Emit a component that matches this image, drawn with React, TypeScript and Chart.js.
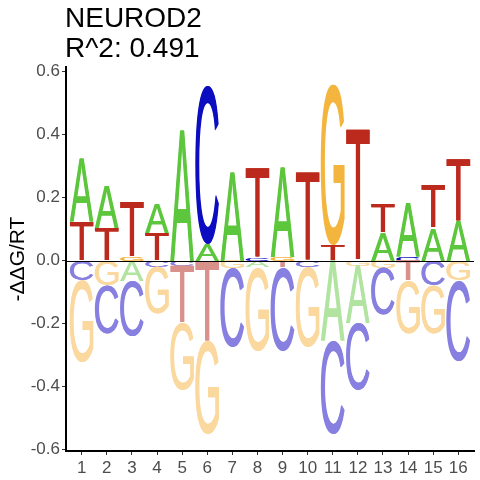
import { useEffect, useRef } from "react"
import { Chart, registerables } from "chart.js"

Chart.register(...registerables)

const positions = [1, 2, 3, 4, 5, 6, 7, 8, 9, 10, 11, 12, 13, 14, 15, 16]
const bases = ["A", "C", "G", "T"]
const titleLines = ["NEUROD2", "R^2: 0.491"]
const yTicks = [-0.6, -0.4, -0.2, 0, 0.2, 0.4, 0.6]

// heights above zero
const gainA = [0.197, 0.132, 0, 0.091, 0.416, 0.053, 0.28, 0, 0.284, 0, 0, 0, 0.088, 0.171, 0.103, 0.124]
const gainC = [0, 0, 0, 0, 0, 0.503, 0, 0.01, 0, 0, 0, 0, 0, 0.012, 0, 0]
const gainG = [0, 0, 0.012, 0, 0, 0, 0, 0, 0.012, 0, 0.508, 0, 0, 0, 0, 0]
const gainT = [0.124, 0.103, 0.171, 0.087, 0, 0, 0, 0.286, 0, 0.28, 0.048, 0.416, 0.09, 0, 0.135, 0.197]

// heights below zero
const lossA = [0, 0, 0.064, 0, 0, 0, 0, 0.021, 0, 0, 0.254, 0.183, 0, 0, 0, 0]
const lossC = [0.064, 0.153, 0.174, 0.02, 0.016, 0, 0.249, 0, 0.265, 0.021, 0.297, 0.212, 0.149, 0, 0.08, 0.254]
const lossG = [0.259, 0.08, 0, 0.149, 0.212, 0.297, 0.025, 0.265, 0, 0.255, 0, 0.016, 0.024, 0.169, 0.153, 0.064]
const lossT = [0, 0, 0, 0, 0.183, 0.254, 0, 0, 0.021, 0, 0, 0, 0, 0.064, 0, 0]

const gain: Record<string, number[]> = { A: gainA, C: gainC, G: gainG, T: gainT }
const loss: Record<string, number[]> = { A: lossA, C: lossC, G: lossG, T: lossT }

const strong: Record<string, string> = { A: "#5cc63c", C: "#0c0cc0", G: "#f4b53f", T: "#bb2a1d" }
const faded: Record<string, string> = { A: "#b0e4a0", C: "#8880e0", G: "#fad89e", T: "#d9928b" }

const FONT = "'Liberation Sans', Arial, sans-serif"
const GLYPH_FONT = "100px " + FONT
const COL_WIDTH = 0.95

const drawLetter = (
  ctx: CanvasRenderingContext2D,
  letter: string,
  color: string,
  x0: number,
  x1: number,
  yTop: number,
  yBottom: number
) => {
  const h = yBottom - yTop
  if (h <= 0.2) return
  ctx.save()
  ctx.font = GLYPH_FONT
  ctx.textAlign = "left"
  ctx.textBaseline = "alphabetic"
  const m = ctx.measureText(letter)
  const gw = m.actualBoundingBoxLeft + m.actualBoundingBoxRight
  const gh = m.actualBoundingBoxAscent + m.actualBoundingBoxDescent
  ctx.fillStyle = color
  // two passes half a pixel apart, so the thin strokes read a little heavier
  ;[0, 0.6].forEach((dx) => {
    ctx.save()
    ctx.translate(x0 + dx, yTop)
    ctx.scale((x1 - x0 - 0.6) / gw, h / gh)
    ctx.fillText(letter, m.actualBoundingBoxLeft, m.actualBoundingBoxAscent)
    ctx.restore()
  })
  ctx.restore()
}

const logoPlugin = {
  id: "logo",
  afterDatasetsDraw(chart: Chart) {
    const { ctx, chartArea } = chart
    const xs = chart.scales.x
    const ys = chart.scales.y
    ctx.save()
    ctx.beginPath()
    ctx.rect(chartArea.left, chartArea.top, chartArea.right - chartArea.left, chartArea.bottom - chartArea.top)
    ctx.clip()
    positions.forEach((p, i) => {
      const x0 = xs.getPixelForValue(p - COL_WIDTH / 2)
      const x1 = xs.getPixelForValue(p + COL_WIDTH / 2)

      const up = bases
        .map((b) => ({ b, v: gain[b][i] }))
        .filter((d) => d.v > 0)
        .sort((a, b) => a.v - b.v)
      let acc = 0
      up.forEach(({ b, v }) => {
        drawLetter(ctx, b, strong[b], x0, x1, ys.getPixelForValue(acc + v), ys.getPixelForValue(acc))
        acc += v
      })

      const down = bases
        .map((b) => ({ b, v: loss[b][i] }))
        .filter((d) => d.v > 0)
        .sort((a, b) => a.v - b.v)
      acc = 0
      down.forEach(({ b, v }) => {
        drawLetter(ctx, b, faded[b], x0, x1, ys.getPixelForValue(-acc), ys.getPixelForValue(-(acc + v)))
        acc += v
      })
    })

    // zero line
    const y0 = Math.round(ys.getPixelForValue(0)) + 0.5
    ctx.strokeStyle = "#000"
    ctx.lineWidth = 1
    ctx.beginPath()
    ctx.moveTo(chartArea.left, y0)
    ctx.lineTo(chartArea.right, y0)
    ctx.stroke()
    ctx.restore()
  },
  afterDraw(chart: Chart) {
    const { ctx, chartArea } = chart
    ctx.save()
    ctx.font = "28px " + FONT
    ctx.fillStyle = "#000"
    ctx.textAlign = "left"
    ctx.textBaseline = "alphabetic"
    ctx.fillText(titleLines[0], chartArea.left - 1, chartArea.top - 40)
    ctx.fillText(titleLines[1], chartArea.left - 1, chartArea.top - 10)
    ctx.restore()
  },
}

const App = () => {
  const chartRef = useRef<HTMLCanvasElement>(null)
  const chartInstance = useRef<Chart | null>(null)

  useEffect(() => {
    if (!chartRef.current) return
    if (chartInstance.current) chartInstance.current.destroy()

    const axisGrid = {
      display: true,
      drawOnChartArea: false,
      drawTicks: true,
      tickLength: 4,
      tickColor: "#333333",
      tickWidth: 1,
    }
    const axisBorder = { display: true, color: "#000000", width: 2 }
    const tickStyle = { color: "#4d4d4d", font: { size: 17, family: FONT } }

    chartInstance.current = new Chart(chartRef.current, {
      type: "scatter",
      data: {
        datasets: bases.map((b) => ({
          label: b,
          data: positions.map((p, i) => ({ x: p, y: gain[b][i] })),
          pointRadius: 0,
          showLine: false,
        })),
      },
      options: {
        animation: false,
        responsive: true,
        maintainAspectRatio: false,
        devicePixelRatio: 1,
        layout: { padding: { top: 67, right: 6, bottom: 0, left: 0 } },
        plugins: {
          legend: { display: false },
          tooltip: { enabled: false },
        },
        scales: {
          x: {
            type: "linear",
            min: 0.375,
            max: 16.625,
            afterFit: (s: any) => {
              s.height = 29
            },
            afterBuildTicks: (s: any) => {
              s.ticks = positions.map((v) => ({ value: v }))
            },
            ticks: { ...tickStyle, padding: 3, autoSkip: false, maxRotation: 0 },
            grid: axisGrid,
            border: axisBorder,
          },
          y: {
            type: "linear",
            min: -0.604,
            max: 0.614,
            afterFit: (s: any) => {
              s.width = 66
            },
            afterBuildTicks: (s: any) => {
              s.ticks = yTicks.map((v) => ({ value: v }))
            },
            ticks: { ...tickStyle, padding: 2, callback: (v: any) => Number(v).toFixed(1) },
            grid: axisGrid,
            border: axisBorder,
            title: {
              display: true,
              text: "-ΔΔG/RT",
              color: "#000000",
              font: { size: 21, family: FONT },
              padding: { top: 6, bottom: 0 },
            },
          },
        },
      },
      plugins: [logoPlugin],
    })

    return () => {
      if (chartInstance.current) {
        chartInstance.current.destroy()
        chartInstance.current = null
      }
    }
  }, [])

  return (
    <div style={{ position: "fixed", left: 0, top: 0, width: 480, height: 480, background: "#ffffff" }}>
      <canvas ref={chartRef} />
    </div>
  )
}

export default App
